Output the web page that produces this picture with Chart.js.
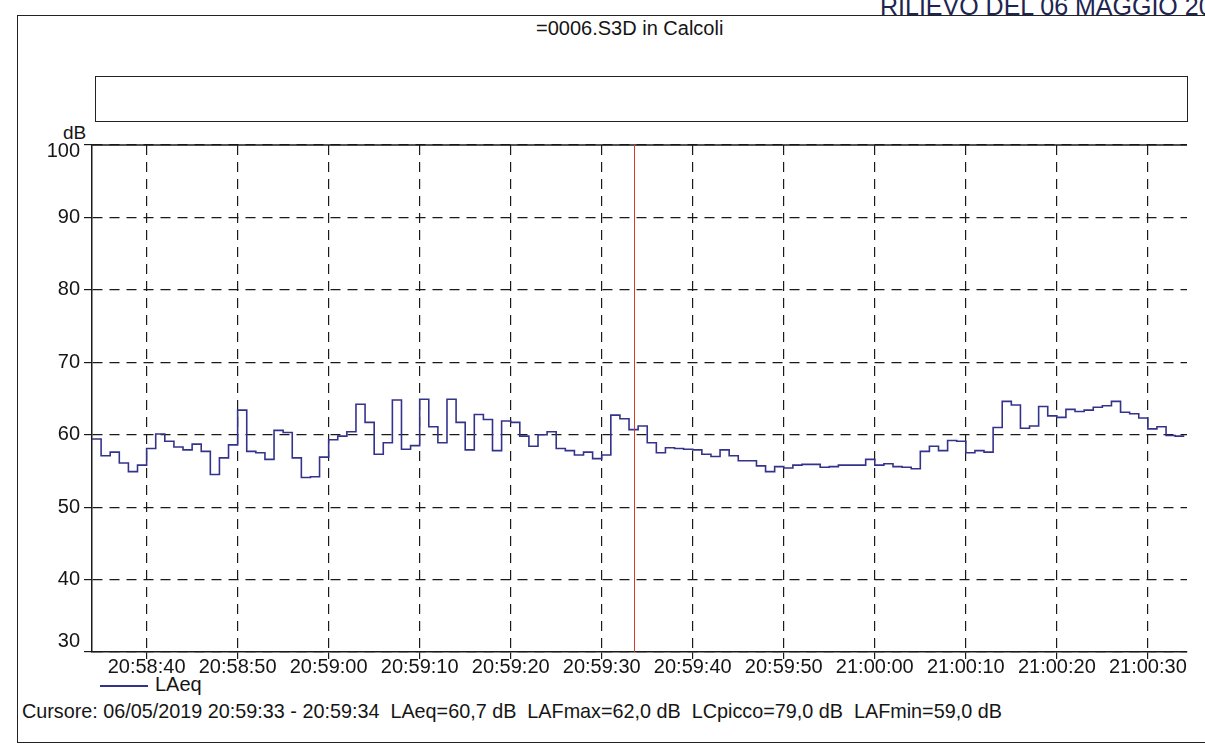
<!DOCTYPE html>
<html>
<head>
<meta charset="utf-8">
<title>LAeq - 0006.S3D</title>
<script src="https://cdn.jsdelivr.net/npm/chart.js@4.4.1/dist/chart.umd.min.js"></script>
<style>
  html, body { margin: 0; padding: 0; background: #fff; }
  body { width: 1205px; height: 751px; position: relative; overflow: hidden;
         font-family: "Liberation Sans", Arial, sans-serif; color: #151515; }
  .abs { position: absolute; white-space: nowrap; }
  #frame { left: 17px; top: 15px; width: 1220px; height: 728px; border: 1.5px solid #222; box-sizing: border-box; }
  #header { left: 880px; top: -8px; font-size: 25px; color: #1d2550; }
  #title { left: 536px; top: 17px; font-size: 20px; }
  #box { left: 95px; top: 76px; width: 1093px; height: 46px; border: 1.5px solid #222; box-sizing: border-box; }
  #unit { left: 63px; top: 122px; font-size: 19px; }
  #legendLine { left: 100px; top: 685px; width: 48px; border-top: 2px solid #34338c; }
  #legendText { left: 155px; top: 673px; font-size: 20px; }
  #cursor { left: 22px; top: 700px; font-size: 19.8px; }
  canvas { position: absolute; left: 0; top: 0; }
</style>
</head>
<body>
<div class="abs" id="frame"></div>
<div class="abs" id="header">RILIEVO DEL 06 MAGGIO 2019</div>
<div class="abs" id="title">=0006.S3D in Calcoli</div>
<div class="abs" id="box"></div>
<div class="abs" id="unit">dB</div>
<div class="abs" id="legendLine"></div>
<div class="abs" id="legendText">LAeq</div>
<div class="abs" id="cursor">Cursore: 06/05/2019 20:59:33 - 20:59:34&nbsp; LAeq=60,7 dB&nbsp; LAFmax=62,0 dB&nbsp; LCpicco=79,0 dB&nbsp; LAFmin=59,0 dB</div>
<canvas id="chart" width="1205" height="751"></canvas>
<script>
// dati: un valore LAeq al secondo a partire da startTime
const startTime = "20:58:34";
const cursorFrom = "20:59:33";
const cursorTo = "20:59:34";
const tickLabels = ["20:58:40", "20:58:50", "20:59:00", "20:59:10", "20:59:20", "20:59:30",
                    "20:59:40", "20:59:50", "21:00:00", "21:00:10", "21:00:20", "21:00:30"];
const yTicks = [30, 40, 50, 60, 70, 80, 90, 100];
const laeq = [
  59.4, 57.1, 57.6, 56.1, 54.9, 55.8,                               // 20:58:34 - :39
  58.1, 60.1, 59.1, 58.3, 57.9, 58.7, 57.7, 54.5, 56.8, 58.6,       // 20:58:40
  63.4, 57.7, 57.5, 56.6, 60.6, 60.3, 56.8, 54.1, 54.2, 56.9,       // 20:58:50
  59.3, 59.8, 60.4, 64.2, 61.7, 57.3, 58.9, 64.8, 58.0, 58.5,       // 20:59:00
  64.9, 61.1, 58.9, 64.9, 61.7, 57.9, 62.8, 62.1, 57.8, 61.9,       // 20:59:10
  61.7, 59.8, 58.4, 60.0, 60.4, 58.1, 57.8, 57.2, 57.6, 56.7,       // 20:59:20
  57.2, 62.7, 62.2, 60.7, 61.2, 58.9, 57.5, 58.2, 58.1, 58.0,       // 20:59:30
  57.9, 57.3, 57.0, 57.9, 57.1, 56.4, 56.4, 55.7, 54.9, 55.6,       // 20:59:40
  55.4, 55.8, 55.9, 55.9, 55.5, 55.6, 55.8, 55.8, 55.8, 56.6,       // 20:59:50
  55.8, 56.0, 55.6, 55.5, 55.3, 57.7, 58.4, 57.8, 59.2, 59.1,       // 21:00:00
  57.5, 57.8, 57.6, 61.0, 64.6, 64.1, 60.9, 61.2, 63.9, 62.6,       // 21:00:10
  62.4, 63.5, 63.2, 63.4, 63.8, 64.0, 64.6, 63.1, 62.9, 62.3,       // 21:00:20
  60.8, 61.1, 59.9, 59.8                                            // 21:00:30 - :33
];

const toSec = (s) => {
  const [h, m, sec] = s.split(":").map(Number);
  return h * 3600 + m * 60 + sec;
};
const pad = (n) => String(n).padStart(2, "0");
const fmt = (t) => pad(Math.floor(t / 3600)) + ":" + pad(Math.floor(t / 60) % 60) + ":" + pad(t % 60);

const t0 = toSec(startTime);
const tickSecs = tickLabels.map((l) => toSec(l) - t0);
const cursorSec = (toSec(cursorFrom) + toSec(cursorTo)) / 2 - t0;

// gradini: ogni punto vale fino al secondo successivo
const points = laeq.map((v, i) => ({ x: i, y: v }));
points.push({ x: laeq.length, y: laeq[laeq.length - 1] });

const ink = "#1a1a1a";
const family = "'Liberation Sans', Arial, sans-serif";
const yMin = yTicks[0];
const yMax = yTicks[yTicks.length - 1];

// linea superiore piena e cursore rosso
const extras = {
  id: "extras",
  afterDatasetsDraw(chart) {
    const { ctx, chartArea: a, scales } = chart;
    ctx.save();
    ctx.strokeStyle = ink;
    ctx.lineWidth = 1.5;
    ctx.beginPath();
    ctx.moveTo(a.left, a.top);
    ctx.lineTo(a.right, a.top);
    ctx.stroke();
    const cx = Math.round(scales.x.getPixelForValue(cursorSec)) + 0.5;
    ctx.strokeStyle = "#d23b2e";
    ctx.lineWidth = 1;
    ctx.beginPath();
    ctx.moveTo(cx, a.top);
    ctx.lineTo(cx, a.bottom);
    ctx.stroke();
    ctx.restore();
  },
};

const ctx = document.getElementById("chart").getContext("2d");
new Chart(ctx, {
  type: "line",
  data: {
    datasets: [
      {
        label: "LAeq",
        data: points,
        stepped: true,
        borderColor: "#34338c",
        borderWidth: 1.6,
        pointRadius: 0,
        fill: false,
      },
    ],
  },
  options: {
    responsive: false,
    animation: false,
    devicePixelRatio: 1,
    layout: { padding: { left: 0, top: 145, right: 18, bottom: 0 } },
    plugins: {
      legend: { display: false },
      tooltip: { enabled: false },
    },
    scales: {
      x: {
        type: "linear",
        min: 0,
        max: laeq.length + 0.3,
        afterBuildTicks: (s) => { s.ticks = tickSecs.map((v) => ({ value: v })); },
        afterFit: (s) => { s.height = 99; },
        grid: { color: ink, lineWidth: 1.2, tickLength: 7, tickColor: ink },
        border: { color: ink, width: 1.5, dash: [10, 7] },
        ticks: {
          font: { family: family, size: 20 },
          color: "#151515",
          padding: -4,
          maxRotation: 0,
          autoSkip: false,
          callback: (v) => fmt(t0 + v),
        },
      },
      y: {
        min: yMin,
        max: yMax,
        afterBuildTicks: (s) => { s.ticks = yTicks.map((v) => ({ value: v })); },
        afterFit: (s) => { s.width = 92; },
        grid: { color: ink, lineWidth: 1.2, tickLength: 8, tickColor: ink },
        border: { color: ink, width: 1.5, dash: [10, 7] },
        ticks: {
          // 100 spostato in basso, 30 in alto, come nella stampa
          font: (c) => ({
            family: family,
            size: 20,
            lineHeight: c.tick && c.tick.value === yMax ? 0.6 : 1.1,
          }),
          color: "#151515",
          padding: 4,
          callback: (v) => (v === yMin ? [String(v), ""] : v === yMax ? ["", String(v)] : String(v)),
        },
      },
    },
  },
  plugins: [extras],
});
</script>
</body>
</html>
